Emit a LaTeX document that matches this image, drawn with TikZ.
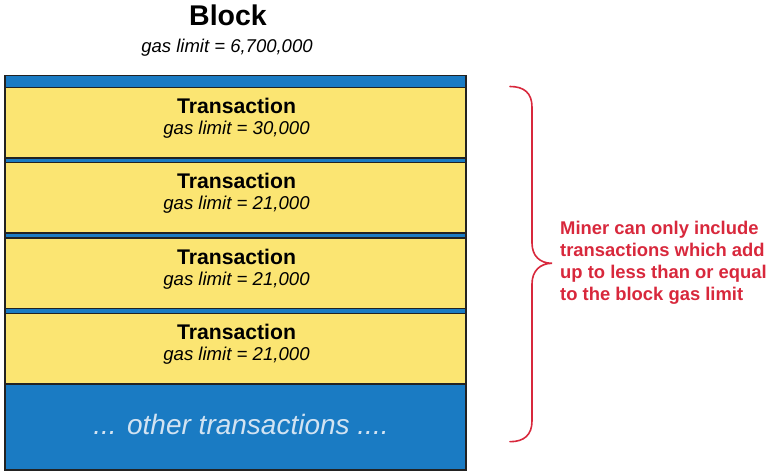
\documentclass[tikz,border=0pt]{standalone}
\usepackage{fontspec}
\setmainfont{Liberation Sans}
\definecolor{blockblue}{HTML}{1A7BC3}
\definecolor{txyellow}{HTML}{FBE572}
\definecolor{edge}{HTML}{222222}
\definecolor{notered}{HTML}{D8283C}
\definecolor{paletext}{HTML}{D2E3F2}
\begin{document}
\begin{tikzpicture}[x=1pt,y=-1pt,
  blockbox/.style={draw=edge,fill=blockblue,line width=1.4pt,minimum width=461pt,minimum height=394.5pt,inner sep=0pt},
  txbox/.style={draw=edge,fill=txyellow,line width=1.2pt,minimum width=461pt,minimum height=70.5pt,inner sep=0pt,anchor=north},
  txtitle/.style={anchor=base,inner sep=0pt,font=\fontsize{21.2}{24}\selectfont\bfseries},
  txgas/.style={anchor=base,inner sep=0pt,font=\fontsize{18.6}{22}\selectfont\itshape},
  brace/.style={draw=notered,line width=1.6pt,line cap=round}]
\useasboundingbox (0,0) rectangle (772,473);

% block title
\node[anchor=base,inner sep=0pt,font=\fontsize{28.5}{32}\selectfont\bfseries] (btitle) at (228,26) {Block};
\node[anchor=base,inner sep=0pt,font=\fontsize{18.5}{22}\selectfont\itshape] (bgas) at (227,53) {gas limit = 6,700,000};

% block body
\node[blockbox] (block) at (235.5,272.75) {};

% transactions
\node[txbox] (t1) at (235.5,87) {};
\node[txbox] (t2) at (235.5,162) {};
\node[txbox] (t3) at (235.5,237.5) {};
\node[txbox] (t4) at (235.5,313) {};

\node[txtitle] (t1a) at (236.5,114) {Transaction};
\node[txgas]   (t1b) at (236.5,135) {gas limit = 30,000};
\node[txtitle] (t2a) at (236.5,189) {Transaction};
\node[txgas]   (t2b) at (236.5,210) {gas limit = 21,000};
\node[txtitle] (t3a) at (236.5,264.5) {Transaction};
\node[txgas]   (t3b) at (236.5,285.5) {gas limit = 21,000};
\node[txtitle] (t4a) at (236.5,340) {Transaction};
\node[txgas]   (t4b) at (236.5,361) {gas limit = 21,000};

\node[anchor=base,inner sep=0pt,text=paletext,font=\fontsize{28}{32}\selectfont\itshape] (others) at (241,435) {... other transactions ....};

% brace
\coordinate (btop) at (510,86.5);
\coordinate (btip) at (552,263.3);
\coordinate (bbot) at (510,441.7);
\draw[brace] (btop) .. controls (524,86.5) and (532,93) .. (532,107)
  -- (532,243) .. controls (532,256) and (540,263.3) .. (btip)
  .. controls (540,263.3) and (532,271) .. (532,284)
  -- (532,421) .. controls (532,435) and (524,441.7) .. (bbot);

% note (base anchor sits on the last line)
\node[anchor=base west,inner sep=0pt,align=left,text=notered,font=\fontsize{18.4}{21.9}\selectfont\bfseries] (note) at (560,300.7)
  {Miner can only include\\transactions which add\\up to less than or equal\\to the block gas limit};
\end{tikzpicture}
\end{document}
